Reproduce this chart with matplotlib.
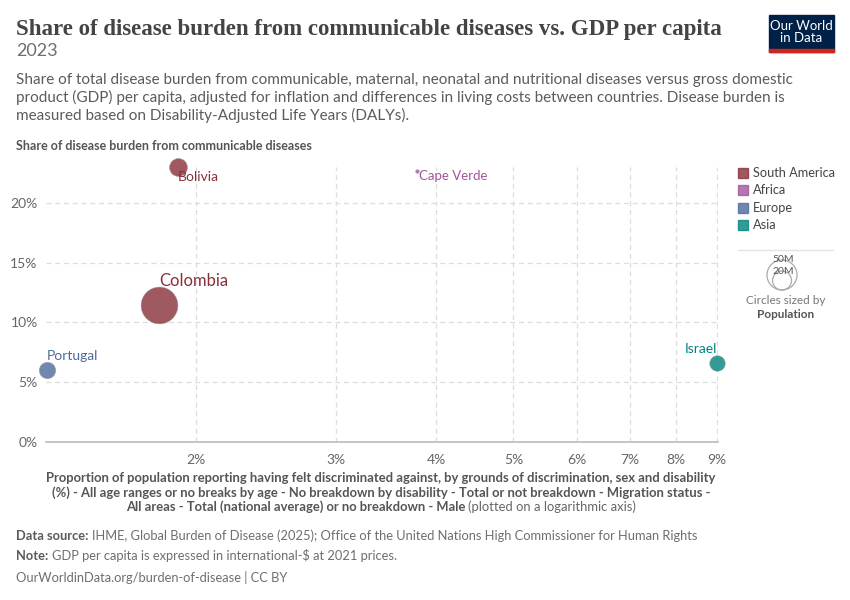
import matplotlib
matplotlib.use("Agg")
import matplotlib.pyplot as plt
from matplotlib.patches import Circle, Rectangle
import numpy as np
from matplotlib.ticker import FixedLocator, FixedFormatter, NullLocator

# ---- data ----
countries = ["Bolivia", "Colombia", "Portugal", "Cape Verde", "Israel"]
continents = ["South America", "South America", "Europe", "Africa", "Asia"]
discrimination_pct = [1.90, 1.80, 1.30, 3.78, 9.00]
communicable_share = [23.0, 11.5, 6.0, 22.7, 6.6]
population = [12.4e6, 52.3e6, 10.4e6, 0.52e6, 9.3e6]

legend_continents = ["South America", "Africa", "Europe", "Asia"]
x_ticks = [2, 3, 4, 5, 6, 7, 8, 9]
x_tick_labels = ["2%", "3%", "4%", "5%", "6%", "7%", "8%", "9%"]
y_ticks = [0, 5, 10, 15, 20]
y_tick_labels = ["0%", "5%", "10%", "15%", "20%"]
size_legend_values = [50e6, 20e6]
size_legend_labels = ["50M", "20M"]

colors = {"South America": "#883039", "Africa": "#A2559C",
          "Europe": "#4C6A9C", "Asia": "#00847E"}

plt.rcParams['font.family'] = ['Lato', 'DejaVu Sans']

W, H = 850, 600
fig = plt.figure(figsize=(W / 100, H / 100), dpi=100)

def fx(px):
    return px / W

def fy(py):
    return 1 - py / H

ax = fig.add_axes([fx(46), fy(442), fx(718) - fx(46), fy(167) - fy(442)])
ax.set_xscale("log")
ax.set_xlim(1.298, 9.02)
ax.set_ylim(0, 23)

# marker size: radius 18px for 50M
def radius_px(p):
    return 18 * np.sqrt(p / 50e6)

def legend_radius_px(p):
    return 15 * np.sqrt(p / 50e6)

sizes = [(2 * radius_px(p) * 0.72) ** 2 for p in population]
for c, x, y, s, cont in zip(countries, discrimination_pct, communicable_share, sizes, continents):
    ax.scatter([x], [y], s=s, color=colors[cont], alpha=0.8, edgecolors="#999999",
               linewidths=0.4, zorder=3, clip_on=False)

# labels
label_specs = {
    "Bolivia": dict(dx=0, dy=-10, ha="left", fs=10),
    "Colombia": dict(dx=0, dy=24, ha="left", fs=12),
    "Portugal": dict(dx=0, dy=14, ha="left", fs=10),
    "Cape Verde": dict(dx=2, dy=-5, ha="left", fs=9.5),
    "Israel": dict(dx=0, dy=14, ha="right", fs=10),
}
for c, x, y, cont in zip(countries, discrimination_pct, communicable_share, continents):
    sp = label_specs[c]
    ax.annotate(c, (x, y), xytext=(sp["dx"] * 0.72, sp["dy"] * 0.72), textcoords="offset points",
                ha=sp["ha"], va="center", fontsize=sp["fs"], color=colors[cont], zorder=4)

# axes styling
for s in ["top", "right", "left"]:
    ax.spines[s].set_visible(False)
ax.spines["bottom"].set_color("#bbbbbb")
ax.spines["bottom"].set_linewidth(1.2)
ax.xaxis.set_major_locator(FixedLocator(x_ticks))
ax.xaxis.set_major_formatter(FixedFormatter(x_tick_labels))
ax.xaxis.set_minor_locator(NullLocator())
ax.set_yticks(y_ticks)
ax.set_yticklabels(y_tick_labels)
ax.tick_params(axis="both", length=0, labelsize=10, labelcolor="#666666")
ax.tick_params(axis="x", pad=9)
ax.tick_params(axis="y", pad=6)
ax.grid(True, which="major", color="#dddddd", linestyle=(0, (4, 3)), linewidth=0.9)
ax.set_axisbelow(True)

# overlay axes in pixel coordinates for decorations
ov = fig.add_axes([0, 0, 1, 1], zorder=-1)
ov.set_xlim(0, W)
ov.set_ylim(H, 0)
ov.axis("off")

# ---- titles ----
fig.text(fx(16), fy(30), "Share of disease burden from communicable diseases vs. GDP per capita",
         fontsize=16.5, fontfamily="Liberation Serif", fontweight="bold", color="#444444",
         va="center", ha="left")
fig.text(fx(16), fy(51), "2023", fontsize=13, color="#6e6e6e", va="center", ha="left")
desc = ("Share of total disease burden from communicable, maternal, neonatal and nutritional diseases versus gross domestic\n"
        "product (GDP) per capita, adjusted for inflation and differences in living costs between countries. Disease burden is\n"
        "measured based on Disability-Adjusted Life Years (DALYs).")
fig.text(fx(16), fy(73), desc, fontsize=11, color="#5b5b5b", va="top", ha="left", linespacing=1.25)
fig.text(fx(16), fy(146), "Share of disease burden from communicable diseases", fontsize=9,
         fontweight="bold", color="#555555", va="center", ha="left")

# logo
ov.add_patch(Rectangle((769, 15), 65, 37, color="#002147"))
ov.add_patch(Rectangle((769, 49), 65, 3, color="#CE261E"))
fig.text(fx(801.5), fy(32), "Our World\nin Data", color="white", ha="center", va="center",
         fontsize=9.5, linespacing=1.0)

# ---- x axis label ----
xl1 = "Proportion of population reporting having felt discriminated against, by grounds of discrimination, sex and disability"
xl2 = "(%) - All age ranges or no breaks by age - No breakdown by disability - Total or not breakdown - Migration status -"
xl3a = "All areas - Total (national average) or no breakdown - Male "
xl3b = "(plotted on a logarithmic axis)"
cx = 381
xfs = 9.4
fig.text(fx(cx), fy(478), xl1, fontsize=xfs, fontweight="bold", color="#555555", ha="center", va="center")
fig.text(fx(cx), fy(493), xl2, fontsize=xfs, fontweight="bold", color="#555555", ha="center", va="center")
r = fig.canvas.get_renderer()
ta = fig.text(0, fy(507), xl3a, fontsize=xfs, fontweight="bold", color="#555555", ha="left", va="center")
tb = fig.text(0, fy(507), xl3b, fontsize=xfs, color="#666666", ha="left", va="center")
wa = ta.get_window_extent(r).width
wb = tb.get_window_extent(r).width
start = cx - (wa + wb) / 2
ta.set_x(fx(start))
tb.set_x(fx(start + wa))

# ---- legend ----
ly = [173, 190, 208, 225]
for name, yy in zip(legend_continents, ly):
    ov.add_patch(Rectangle((738, yy - 5), 10, 10, color=colors[name], alpha=0.8))
    fig.text(fx(753), fy(yy), name, fontsize=9.2, color="#444444", va="center", ha="left")
ov.plot([738, 833], [250, 250], color="#e3e3e3", linewidth=1)

# size legend circles
for v in size_legend_values:
    rr = legend_radius_px(v)
    ov.add_patch(Circle((782, 290 - rr), rr, fill=False, edgecolor="#aaaaaa", linewidth=0.9))
for lab, yy in zip(size_legend_labels, [260, 271]):
    fig.text(fx(783), fy(yy), lab, fontsize=7.5, color="#555555", ha="center", va="center",
             bbox=dict(boxstyle="square,pad=0.05", fc="white", ec="none", alpha=0.0))
fig.text(fx(786), fy(300), "Circles sized by", fontsize=8.5, color="#777777", ha="center", va="center")
fig.text(fx(786), fy(314), "Population", fontsize=8.5, fontweight="bold", color="#555555",
         ha="center", va="center")

# ---- footer ----
def two_part(x, y, bold, normal, fs=9.3):
    t1 = fig.text(fx(x), fy(y), bold, fontsize=fs, fontweight="bold", color="#5b5b5b", va="center", ha="left")
    w1 = t1.get_window_extent(r).width
    fig.text(fx(x + w1), fy(y), normal, fontsize=fs, color="#6e6e6e", va="center", ha="left")

two_part(16, 536, "Data source: ", "IHME, Global Burden of Disease (2025); Office of the United Nations High Commissioner for Human Rights")
two_part(16, 556, "Note: ", "GDP per capita is expressed in international-$ at 2021 prices.")
fig.text(fx(16), fy(577), "OurWorldinData.org/burden-of-disease | CC BY", fontsize=9.3, color="#6e6e6e",
         va="center", ha="left")

fig.savefig("out.png", dpi=100)
